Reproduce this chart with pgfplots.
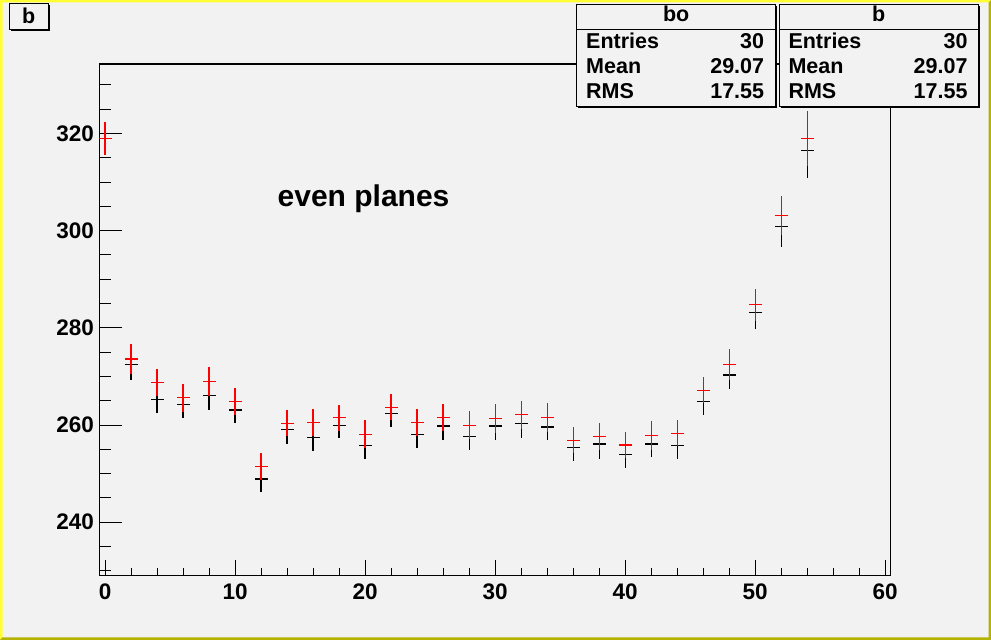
\documentclass[border=0pt]{standalone}
\usepackage{pgfplots}
\pgfplotsset{compat=1.18}
\usepackage{pgfplotstable}
\usepackage{fontspec}
\setmainfont{Liberation Sans}
\definecolor{bgc}{HTML}{F2F2F2}
\definecolor{ylight}{HTML}{FFFF33}
\definecolor{ydark}{HTML}{B3B300}

\pgfplotstableread{
x ex y ey
0 0.5 319.0 3.45
2 0.5 272.4 3.1
4 0.5 265.2 2.75
6 0.5 264.3 2.95
8 0.5 266.0 2.95
10 0.5 263.1 2.75
12 0.5 248.9 2.75
14 0.5 259.0 2.9
16 0.5 257.5 2.75
18 0.5 260.0 2.75
20 0.5 255.7 2.75
22 0.5 262.3 2.75
24 0.5 258.1 2.75
26 0.5 259.8 2.8
28 0.5 257.7 2.75
30 0.5 259.8 2.8
32 0.5 260.4 3.0
34 0.5 259.6 2.75
36 0.5 255.3 2.75
38 0.5 256.1 3.0
40 0.5 254.0 2.75
42 0.5 256.1 2.75
44 0.5 255.7 2.75
46 0.5 264.9 2.9
48 0.5 270.3 2.95
50 0.5 283.2 3.4
52 0.5 300.8 4.2
54 0.5 316.5 5.6
}\blackdata

\pgfplotstableread{
x ex y ey
0 0.5 319.0 3.45
2 0.5 273.6 3.15
4 0.5 268.7 2.75
6 0.5 265.6 2.95
8 0.5 268.9 2.95
10 0.5 264.9 2.75
12 0.5 251.5 2.75
14 0.5 260.4 2.75
16 0.5 260.6 2.75
18 0.5 261.5 2.7
20 0.5 258.1 2.9
22 0.5 263.7 2.75
24 0.5 260.6 2.75
26 0.5 261.6 2.75
28 0.5 260.0 2.95
30 0.5 261.4 2.95
32 0.5 262.1 2.95
34 0.5 261.6 2.95
36 0.5 256.9 2.75
38 0.5 257.7 2.75
40 0.5 255.9 2.75
42 0.5 257.9 2.95
44 0.5 258.35 2.75
46 0.5 267.2 2.75
48 0.5 272.4 3.15
50 0.5 284.8 3.3
52 0.5 303.1 4.0
54 0.5 319.0 5.6
}\reddata

\begin{document}
\begin{tikzpicture}
\begin{scope}[x=1pt,y=1pt]
\fill[bgc] (0,0) rectangle (991,640);
\fill[ylight] (0,0) -- (0,640) -- (991,640) -- (988.5,637.5) -- (2.5,637.5) -- (2.5,2.5) -- cycle;
\fill[ydark] (0,0) -- (991,0) -- (991,640) -- (988.5,637.5) -- (988.5,2.5) -- (2.5,2.5) -- cycle;
\end{scope}

\begin{axis}[
  at={(99.3pt,64.3pt)}, anchor=south west, scale only axis,
  width=791.5pt, height=511.7pt,
  xmin=-0.44, xmax=60.44, ymin=229.0, ymax=334.3,
  axis background/.style={fill=bgc},
  axis line style={line width=1.1pt},
  tick pos=left, tick align=inside,
  xtick={0,10,...,60}, minor xtick={0,2,...,60},
  ytick={240,260,...,320}, minor ytick={230,235,...,330},
  tick style={black, line width=1pt},
  xtick style={/pgfplots/major tick length=16pt,/pgfplots/minor tick length=8pt},
  ytick style={/pgfplots/major tick length=23pt,/pgfplots/minor tick length=11.5pt},
  /pgf/number format/assume math mode=true,
  ticklabel style={font=\bfseries\fontsize{22.5}{22.5}\selectfont, inner sep=0pt},
  xticklabel style={anchor=north, yshift=-7.5pt},
  yticklabel style={anchor=east, xshift=-5.3pt},
  error bars/error mark=none,
]
\addplot[draw=none, mark=none,
  error bars/.cd, x dir=both, x explicit, y dir=both, y explicit,
  error bar style={draw=black, line width=1.1pt}]
  table[x=x, y=y, x error=ex, y error=ey] {\blackdata};
\addplot[draw=none, mark=none,
  error bars/.cd, x dir=both, x explicit, y dir=both, y explicit,
  error bar style={draw=red, line width=1.1pt}]
  table[x=x, y=y, x error=ex, y error=ey] {\reddata};
\end{axis}

\begin{scope}[x=1pt,y=1pt]
% even planes
\node[anchor=base west, inner sep=0pt, font=\bfseries\fontsize{30}{30}\selectfont] at (277.5,433.5) {even planes};

% title box
\fill[black] (10.8,608.5) rectangle (49.8,635.2);
\fill[bgc, draw=black, line width=1pt] (9.3,610) rectangle (48.3,636.7);
\node[anchor=base, inner sep=0pt, font=\bfseries\fontsize{21.5}{21.5}\selectfont] at (28.6,616.7) {b};

% stats box 1
\fill[black] (578.2,531.8) rectangle (777.2,633.8);
\fill[bgc, draw=black, line width=1pt] (576.7,533.3) rectangle (775.7,635.3);
\draw[black, line width=1pt] (576.7,610.7) -- (775.7,610.7);
\begin{scope}[every node/.style={inner sep=0pt, font=\bfseries\fontsize{21.5}{21.5}\selectfont}]
\node[anchor=base] at (676.2,618.3) {bo};
\node[anchor=base west] at (586,591.7) {Entries};
\node[anchor=base east] at (764.3,591.7) {30};
\node[anchor=base west] at (586,566.7) {Mean};
\node[anchor=base east] at (764.3,566.7) {29.07};
\node[anchor=base west] at (586,541) {RMS};
\node[anchor=base east] at (764.3,541) {17.55};
\end{scope}

% stats box 2
\fill[black] (780.5,531.8) rectangle (980.2,633.8);
\fill[bgc, draw=black, line width=1pt] (779,533.3) rectangle (978.7,635.3);
\draw[black, line width=1pt] (779,610.7) -- (978.7,610.7);
\begin{scope}[every node/.style={inner sep=0pt, font=\bfseries\fontsize{21.5}{21.5}\selectfont}]
\node[anchor=base] at (878.8,618.3) {b};
\node[anchor=base west] at (788.3,591.7) {Entries};
\node[anchor=base east] at (967.7,591.7) {30};
\node[anchor=base west] at (788.3,566.7) {Mean};
\node[anchor=base east] at (967.7,566.7) {29.07};
\node[anchor=base west] at (788.3,541) {RMS};
\node[anchor=base east] at (967.7,541) {17.55};
\end{scope}
\end{scope}
\end{tikzpicture}
\end{document}
